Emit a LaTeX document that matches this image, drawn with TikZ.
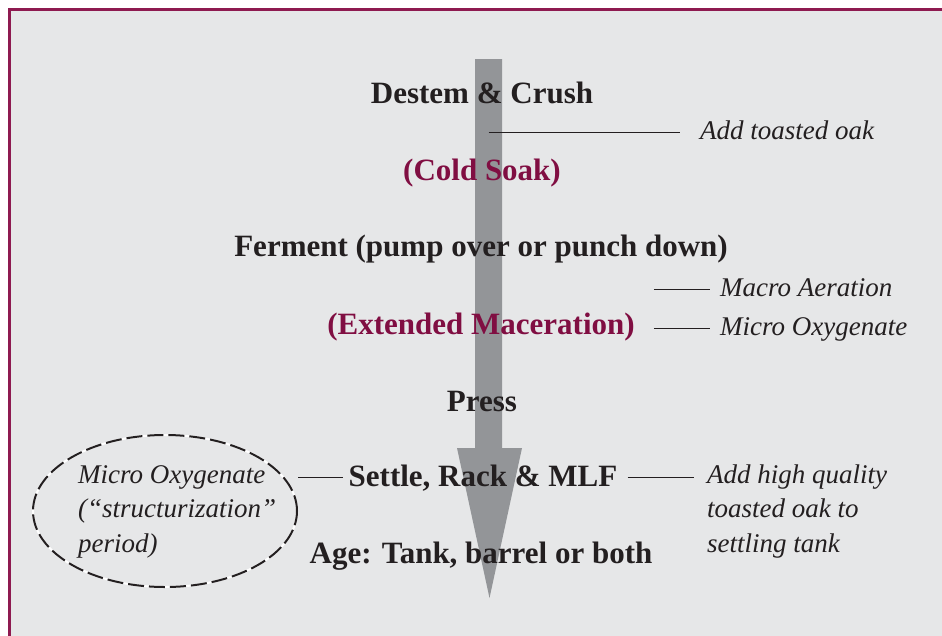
\documentclass[tikz,border=0pt]{standalone}
\usepackage{fontspec}
\setmainfont{Liberation Serif}
\usetikzlibrary{positioning,shapes.geometric}

\definecolor{framewine}{RGB}{142,26,80}
\definecolor{wine}{RGB}{128,14,66}
\definecolor{panel}{RGB}{230,231,232}
\definecolor{shaft}{RGB}{147,149,152}
\definecolor{ink}{RGB}{35,31,32}

\begin{document}
\begin{tikzpicture}[x=1pt,y=-1pt,
    stage/.style={inner sep=0pt,anchor=base,text=ink,font=\fontsize{31}{36}\selectfont\bfseries},
    stagewine/.style={stage,text=wine},
    note/.style={inner sep=0pt,anchor=base west,text=ink,align=left,font=\fontsize{27}{34.5}\selectfont\itshape},
    link/.style={draw=ink,line width=1pt}]
    \useasboundingbox (0,0) rectangle (942,635);
    \clip (0,0) rectangle (942,635);
    \fill[panel] (9,9) rectangle (960,660);
    \draw[framewine,line width=3pt] (9,660) -- (9,9) -- (960,9);

    % the big flow arrow behind the steps
    \coordinate (top) at (488.5,59);
    \coordinate (tip) at (489.5,598);
    \fill[shaft] (475,59) -- (502,59) -- (502,448) -- (522,448) -- (tip) -- (457,448) -- (475,448) -- cycle;

    % steps
    \node[stage] (crush) at (482,103) {Destem \& Crush};
    \node[stagewine] (soak) at (482,180) {(Cold Soak)};
    \node[stage] (ferment) at (481,256) {Ferment (pump over or punch down)};
    \node[stagewine] (macer) at (481,334) {(Extended Maceration)};
    \node[stage] (press) at (482,411) {Press};
    \node[stage] (settle) at (483,486) {Settle, Rack \& MLF};
    \node[stage] (age) at (481,563) {Age: Tank, barrel or both};

    % side notes (base = last line)
    \node[note] (oak) at (700,139) {Add toasted oak};
    \node[note] (aerate) at (720,296) {Macro Aeration};
    \node[note] (microx) at (720,335) {Micro Oxygenate};
    \node[note] (hqoak) at (707,552) {Add high quality\\toasted oak to\\settling tank};
    \node[note] (struct) at (78,552) {Micro Oxygenate\\(“structurization”\\period)};
    \node[ellipse,minimum width=264pt,minimum height=152pt,inner sep=0pt,
          draw=white,line width=2pt,postaction={draw=ink,dash pattern=on 16pt off 5pt}] (ring) at (165,511) {};

    \draw[link,shorten >=20pt] ([yshift=7pt]top |- oak.base west) -- ([yshift=7pt]oak.base west);
    \draw[link,shorten <=19pt,shorten >=10pt] ([yshift=7pt]macer.east |- aerate.base west) -- ([yshift=7pt]aerate.base west);
    \draw[link,shorten <=19pt,shorten >=10pt] ([yshift=7pt]macer.east |- microx.base west) -- ([yshift=7pt]microx.base west);
    \draw[link,shorten <=10pt,shorten >=13pt] (settle.east) -- (settle.east -| hqoak.west);
    \draw[link,shorten >=6pt] (ring.east |- settle.west) -- (settle.west);
\end{tikzpicture}
\end{document}
